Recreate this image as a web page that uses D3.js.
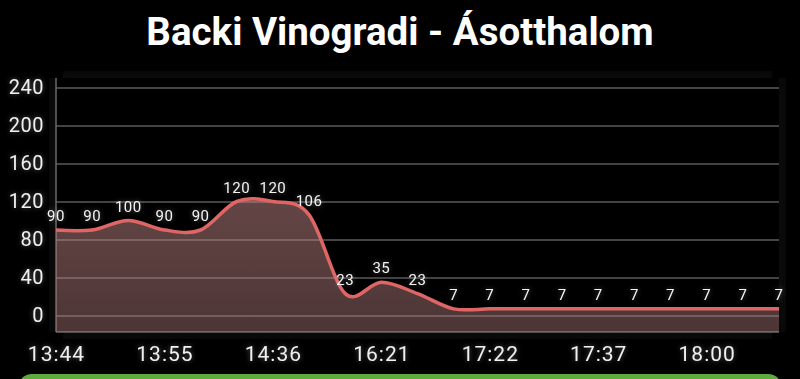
<!DOCTYPE html>
<html>
<head>
<meta charset="utf-8">
<script src="https://cdn.jsdelivr.net/npm/d3@7"></script>
<style>
  html, body { margin: 0; padding: 0; background: #000; }
  svg { display: block; }
</style>
</head>
<body>
<div id="chart"></div>
<script>
// values, one per point
var values = [90, 90, 100, 90, 90, 120, 120, 106, 23, 35, 23, 7, 7, 7, 7, 7, 7, 7, 7, 7, 7];
// x labels, shown every 3rd point
var tickIndex = [0, 3, 6, 9, 12, 15, 18];
var tickLabels = ["13:44", "13:55", "14:36", "16:21", "17:22", "17:37", "18:00"];
var yTicks = [0, 40, 80, 120, 160, 200, 240];
var title = "Backi Vinogradi - Ásotthalom";

var W = 800, H = 379;
// "top" is taken by window.top, so use plot* names
var plotLeft = 56, plotRight = 779, plotTop = 78, plotBottom = 332;

var svg = d3.select("#chart").append("svg")
  .attr("width", W)
  .attr("height", H);

var defs = svg.append("defs");

// soft white glow behind text
var glow = defs.append("filter").attr("id", "glow")
  .attr("x", "-30%").attr("y", "-30%").attr("width", "160%").attr("height", "160%");
glow.append("feGaussianBlur").attr("in", "SourceAlpha").attr("stdDeviation", 2.5).attr("result", "b");
glow.append("feFlood").attr("flood-color", "#fff").attr("flood-opacity", 0.35);
glow.append("feComposite").attr("in2", "b").attr("operator", "in").attr("result", "g");
var gm = glow.append("feMerge");
gm.append("feMergeNode").attr("in", "g");
gm.append("feMergeNode").attr("in", "SourceGraphic");

var haze = defs.append("filter").attr("id", "haze")
  .attr("x", "-10%").attr("y", "-20%").attr("width", "120%").attr("height", "140%");
haze.append("feGaussianBlur").attr("stdDeviation", 10);

var grad = defs.append("linearGradient").attr("id", "fillGrad")
  .attr("x1", 0).attr("y1", 0).attr("x2", 0).attr("y2", 1);
grad.append("stop").attr("offset", "0%").attr("stop-color", "#c88a8a").attr("stop-opacity", 0.5);
grad.append("stop").attr("offset", "100%").attr("stop-color", "#b88080").attr("stop-opacity", 0.42);

var x = d3.scalePoint()
  .domain(d3.range(values.length))
  .range([plotLeft, plotRight]);

var y = d3.scaleLinear()
  .domain([0, 240])
  .range([315.5, 87.5]);

// title
svg.append("text")
  .attr("x", W / 2)
  .attr("y", 45)
  .attr("text-anchor", "middle")
  .attr("fill", "#fff")
  .style("font-family", "Roboto, 'Noto Sans', sans-serif")
  .style("font-weight", "bold")
  .style("font-size", "38.5px")
  .text(title);

// faint haze around the plot
svg.append("rect")
  .attr("x", plotLeft).attr("y", plotTop)
  .attr("width", plotRight - plotLeft).attr("height", plotBottom - plotTop)
  .attr("fill", "#121212")
  .attr("filter", "url(#haze)");
svg.append("rect")
  .attr("x", plotLeft).attr("y", plotTop)
  .attr("width", plotRight - plotLeft).attr("height", plotBottom - plotTop)
  .attr("fill", "#000");

// grid lines
svg.append("g")
  .attr("class", "grid")
  .attr("transform", "translate(" + plotLeft + ",0)")
  .call(d3.axisLeft(y).tickValues(yTicks).tickSize(-(plotRight - plotLeft)).tickFormat(""))
  .call(g => g.select(".domain").remove())
  .selectAll("line")
  .attr("stroke", "#5a5a5a")
  .attr("stroke-width", 1.5);

// y axis labels
var yAxis = svg.append("g")
  .attr("transform", "translate(" + plotLeft + ",0)")
  .call(d3.axisLeft(y).tickValues(yTicks).tickSize(0).tickPadding(12));
yAxis.select(".domain").remove();
yAxis.selectAll("text")
  .attr("fill", "#f0f0f0")
  .attr("filter", "url(#glow)")
  .style("font-family", "Roboto, 'Noto Sans', sans-serif")
  .style("font-size", "20px")
  .style("letter-spacing", "0.5px");

// axis lines
svg.append("line")
  .attr("x1", plotLeft).attr("x2", plotLeft)
  .attr("y1", plotTop).attr("y2", plotBottom)
  .attr("stroke", "#6a6a6a").attr("stroke-width", 1.5);
svg.append("line")
  .attr("x1", plotLeft).attr("x2", plotRight)
  .attr("y1", plotBottom).attr("y2", plotBottom)
  .attr("stroke", "#6a6a6a").attr("stroke-width", 1.5);

var curve = d3.curveCatmullRom.alpha(0);

var area = d3.area()
  .curve(curve)
  .x((d, i) => x(i))
  .y0(plotBottom)
  .y1(d => y(d));

var line = d3.line()
  .curve(curve)
  .x((d, i) => x(i))
  .y(d => y(d));

svg.append("path")
  .datum(values)
  .attr("d", area)
  .attr("fill", "url(#fillGrad)");

svg.append("path")
  .datum(values)
  .attr("d", line)
  .attr("fill", "none")
  .attr("stroke", "#e06666")
  .attr("stroke-width", 3.5);

// value labels above the points
svg.append("g")
  .selectAll("text")
  .data(values)
  .enter().append("text")
  .attr("x", (d, i) => x(i))
  .attr("y", d => y(d) - 9)
  .attr("text-anchor", "middle")
  .attr("fill", "#f4f4f4")
  .attr("filter", "url(#glow)")
  .style("font-family", "Roboto, 'Noto Sans', sans-serif")
  .style("font-size", "15px")
  .style("letter-spacing", "0.5px")
  .text(d => d);

// x labels
var xAxis = svg.append("g")
  .attr("transform", "translate(0," + plotBottom + ")")
  .call(d3.axisBottom(x).tickValues(tickIndex).tickSize(0).tickPadding(14)
    .tickFormat(i => tickLabels[tickIndex.indexOf(i)]));
xAxis.select(".domain").remove();
xAxis.selectAll("text")
  .attr("fill", "#f0f0f0")
  .attr("filter", "url(#glow)")
  .style("font-family", "Roboto, 'Noto Sans', sans-serif")
  .style("font-size", "21px")
  .style("letter-spacing", "1px");

// green button edge peeking in at the bottom
svg.append("rect")
  .attr("x", 18).attr("y", 374)
  .attr("width", 764).attr("height", 30)
  .attr("rx", 14)
  .attr("fill", "#5cab3c");
</script>
</body>
</html>
